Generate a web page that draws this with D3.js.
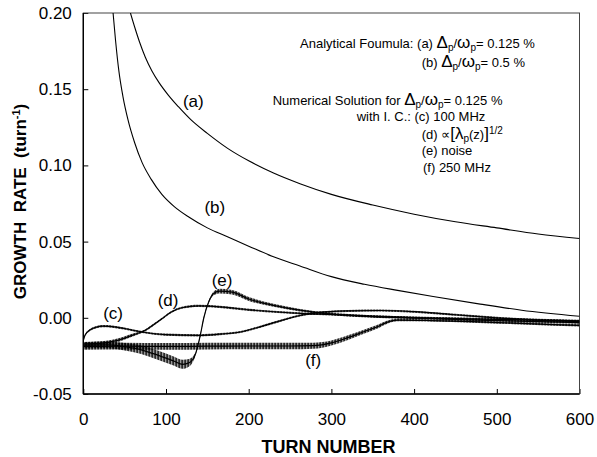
<!DOCTYPE html>
<html>
<head>
<meta charset="utf-8">
<script src="https://cdn.jsdelivr.net/npm/d3@7"></script>
<style>
	body { margin: 0; background: #fff; }
	text { font-family: "Liberation Sans", Arial, sans-serif; fill: #000; }
</style>
</head>
<body>
<svg id="chart" width="597" height="457"></svg>
<script>
// analytical curves: [turn, growth rate]
var curveA = [ [ 57, 0.200 ], [ 62, 0.191 ], [ 68, 0.181 ], [ 75, 0.171 ], [ 83, 0.162 ], [ 92, 0.154 ], [ 103, 0.146 ], [ 115, 0.1385 ], [ 130, 0.130 ], [ 150, 0.121 ], [ 175, 0.111 ], [ 200, 0.103 ], [ 230, 0.095 ], [ 262, 0.088 ], [ 300, 0.081 ], [ 350, 0.074 ], [ 400, 0.068 ], [ 450, 0.063 ], [ 500, 0.059 ], [ 550, 0.055 ], [ 600, 0.052 ] ];
var curveB = [ [ 36, 0.200 ], [ 39, 0.182 ], [ 43, 0.162 ], [ 48, 0.145 ], [ 54, 0.130 ], [ 62, 0.115 ], [ 71, 0.102 ], [ 82, 0.091 ], [ 95, 0.081 ], [ 110, 0.073 ], [ 128, 0.066 ], [ 150, 0.059 ], [ 175, 0.053 ], [ 200, 0.047 ], [ 230, 0.040 ], [ 262, 0.034 ], [ 300, 0.027 ], [ 340, 0.022 ], [ 380, 0.018 ], [ 423, 0.014 ], [ 480, 0.009 ], [ 530, 0.005 ], [ 600, 0.001 ] ];

// numerical curves: [turn, growth rate, half width of the oscillation]
var curveC = [ [ 0, -0.0150, 0.0007 ], [ 2, -0.0115, 0.0007 ], [ 8, -0.0080, 0.0007 ], [ 15, -0.0063, 0.0007 ], [ 24, -0.0055, 0.0007 ], [ 35, -0.0058, 0.0007 ], [ 51, -0.0072, 0.0007 ], [ 71, -0.0093, 0.0007 ], [ 99, -0.0110, 0.0007 ], [ 140, -0.0115, 0.0007 ], [ 165, -0.0107, 0.0007 ], [ 190, -0.0093, 0.0007 ], [ 210, -0.0065, 0.0007 ], [ 235, -0.0025, 0.0007 ], [ 262, 0.0015, 0.0007 ], [ 285, 0.0035, 0.0007 ], [ 320, 0.0045, 0.0007 ], [ 360, 0.0048, 0.0007 ], [ 400, 0.0040, 0.0007 ], [ 450, 0.0020, 0.0007 ], [ 500, 0.0000, 0.0007 ], [ 550, -0.0015, 0.0007 ], [ 600, -0.0025, 0.0007 ] ];
var curveD = [ [ 0, -0.0172, 0.0012 ], [ 20, -0.0168, 0.0012 ], [ 40, -0.0150, 0.0012 ], [ 59, -0.0115, 0.0010 ], [ 75, -0.0082, 0.0007 ], [ 85, -0.0045, 0.0007 ], [ 95, -0.0006, 0.0007 ], [ 107, 0.0040, 0.0007 ], [ 119, 0.0066, 0.0007 ], [ 140, 0.0078, 0.0007 ], [ 165, 0.0072, 0.0007 ], [ 201, 0.0052, 0.0007 ], [ 235, 0.0038, 0.0007 ], [ 266, 0.0028, 0.0007 ], [ 300, 0.0022, 0.0007 ], [ 350, 0.0010, 0.0007 ], [ 400, 0.0000, 0.0007 ], [ 450, -0.0010, 0.0007 ], [ 500, -0.0018, 0.0007 ], [ 550, -0.0025, 0.0007 ], [ 600, -0.0032, 0.0007 ] ];
var curveE = [ [ 0, -0.0180, 0.0022 ], [ 30, -0.0178, 0.0022 ], [ 50, -0.0190, 0.0024 ], [ 70, -0.0210, 0.0028 ], [ 90, -0.0245, 0.0030 ], [ 110, -0.0285, 0.0030 ], [ 120, -0.0305, 0.0030 ], [ 128, -0.0295, 0.0025 ], [ 135.5, -0.0240, 0.0010 ], [ 141.5, -0.0114, 0.0008 ], [ 145.6, -0.0003, 0.0008 ], [ 151.7, 0.0105, 0.0008 ], [ 157.7, 0.0160, 0.0012 ], [ 165, 0.0175, 0.0015 ], [ 180, 0.0168, 0.0015 ], [ 201, 0.0122, 0.0013 ], [ 230, 0.0082, 0.0010 ], [ 262, 0.0050, 0.0008 ], [ 300, 0.0025, 0.0008 ], [ 350, 0.0008, 0.0008 ], [ 400, 0.0000, 0.0008 ], [ 450, -0.0005, 0.0008 ], [ 500, -0.0010, 0.0008 ], [ 550, -0.0015, 0.0008 ], [ 600, -0.0020, 0.0008 ] ];
var curveF = [ [ 0, -0.0188, 0.0022 ], [ 50, -0.0186, 0.0022 ], [ 100, -0.0188, 0.0022 ], [ 150, -0.0186, 0.0022 ], [ 200, -0.0185, 0.0022 ], [ 250, -0.0185, 0.0022 ], [ 278, -0.0183, 0.0020 ], [ 300, -0.0165, 0.0016 ], [ 320, -0.0130, 0.0015 ], [ 340, -0.0090, 0.0013 ], [ 355, -0.0060, 0.0012 ], [ 367, -0.0030, 0.0010 ], [ 380, -0.0015, 0.0008 ], [ 420, -0.0018, 0.0007 ], [ 470, -0.0025, 0.0007 ], [ 520, -0.0035, 0.0007 ], [ 560, -0.0043, 0.0007 ], [ 600, -0.0050, 0.0007 ] ];

// curve labels: [text, turn, growth rate]
var curveLabels = [ [ "(a)", 133, 0.142 ], [ "(b)", 159, 0.0728 ], [ "(c)", 36, 0.0031 ], [ "(d)", 102.5, 0.0117 ], [ "(e)", 167.8, 0.0248 ], [ "(f)", 278, -0.0275 ] ];

// tick values
var xTicks = [ 0, 100, 200, 300, 400, 500, 600 ];
var yTicks = [ -0.05, 0.00, 0.05, 0.10, 0.15, 0.20 ];

// chart dimensions + margins
var chartMargins = {
		top: 13,
		right: 17.5,
		bottom: 63,
		left: 83.3
	},
	width = 597 - chartMargins.left - chartMargins.right,
	height = 457 - chartMargins.top - chartMargins.bottom;

var svg = d3.select( "#chart" );

// hatch pattern for the fast oscillation band
var defs = svg.append( "defs" );
defs.append( "pattern" )
	.attr( "id", "osc" )
	.attr( "patternUnits", "userSpaceOnUse" )
	.attr( "width", 1.5 )
	.attr( "height", 4 )
	.append( "rect" )
	.attr( "width", 1 )
	.attr( "height", 4 )
	.attr( "fill", "#000" );

defs.append( "clipPath" )
	.attr( "id", "plotClip" )
	.append( "rect" )
	.attr( "width", width )
	.attr( "height", height );

var g = svg.append( "g" )
	.attr( "transform", "translate(" + chartMargins.left + "," + chartMargins.top + ")" );

// X AXIS
var x = d3.scaleLinear().domain( [ 0, 600 ] ).range( [ 0, width ] );
// Y AXIS
var y = d3.scaleLinear().domain( [ -0.05, 0.20 ] ).range( [ height, 0 ] );

var xAxis = d3.axisBottom( x )
	.tickValues( xTicks )
	.tickSize( -5 )
	.tickPadding( 18.5 );

var yAxis = d3.axisLeft( y )
	.tickValues( yTicks )
	.tickSize( -5 )
	.tickPadding( 11.5 )
	.tickFormat( function ( d ) {
		return d.toFixed( 2 );
	} );

var gx = g.append( "g" )
	.attr( "transform", "translate(0," + height + ")" )
	.call( xAxis );
gx.select( ".domain" ).remove();
gx.selectAll( "text" ).attr( "font-size", 17 ).attr( "font-family", null );
gx.selectAll( "line" ).attr( "stroke-width", 1 );

var gy = g.append( "g" ).call( yAxis );
gy.select( ".domain" ).remove();
gy.selectAll( "text" ).attr( "font-size", 17 ).attr( "font-family", null );
gy.selectAll( "line" ).attr( "stroke-width", 1 );

// frame
g.append( "rect" )
	.attr( "width", width )
	.attr( "height", height )
	.attr( "fill", "none" )
	.attr( "stroke", "#444" )
	.attr( "stroke-width", 1 );

g.append( "line" )
	.attr( "x1", 0 ).attr( "x2", 0 )
	.attr( "y1", 0 ).attr( "y2", height )
	.attr( "stroke", "#000" ).attr( "stroke-width", 1.4 );
g.append( "line" )
	.attr( "x1", 0 ).attr( "x2", width )
	.attr( "y1", height ).attr( "y2", height )
	.attr( "stroke", "#000" ).attr( "stroke-width", 1.4 );

var plot = g.append( "g" ).attr( "clip-path", "url(#plotClip)" );

// analytical lines
var line = d3.line()
	.x( function ( d ) { return x( d[ 0 ] ); } )
	.y( function ( d ) { return y( d[ 1 ] ); } )
	.curve( d3.curveMonotoneX );

[ curveA, curveB ].forEach( function ( c ) {
	plot.append( "path" )
		.datum( c )
		.attr( "fill", "none" )
		.attr( "stroke", "#000" )
		.attr( "stroke-width", 1.1 )
		.attr( "d", line );
} );

// numerical solutions: oscillation band + centre line
var band = d3.area()
	.x( function ( d ) { return x( d[ 0 ] ); } )
	.y0( function ( d ) { return y( d[ 1 ] - d[ 2 ] ); } )
	.y1( function ( d ) { return y( d[ 1 ] + d[ 2 ] ); } )
	.curve( d3.curveMonotoneX );

[ curveF, curveE, curveD, curveC ].forEach( function ( c ) {
	plot.append( "path" )
		.datum( c )
		.attr( "fill", "url(#osc)" )
		.attr( "d", band );
	plot.append( "path" )
		.datum( c )
		.attr( "fill", "none" )
		.attr( "stroke", "#000" )
		.attr( "stroke-width", 1.2 )
		.attr( "d", line );
} );

// curve labels
g.selectAll( ".clabel" )
	.data( curveLabels )
	.enter()
	.append( "text" )
	.attr( "class", "clabel" )
	.attr( "x", function ( d ) { return x( d[ 1 ] ); } )
	.attr( "y", function ( d ) { return y( d[ 2 ] ); } )
	.attr( "dy", "0.35em" )
	.attr( "text-anchor", "middle" )
	.attr( "font-size", 17 )
	.text( function ( d ) { return d[ 0 ]; } );

// axis titles
svg.append( "text" )
	.attr( "x", chartMargins.left + width / 2 - 3 )
	.attr( "y", 453 )
	.attr( "text-anchor", "middle" )
	.attr( "font-size", 18 )
	.attr( "font-weight", "bold" )
	.text( "TURN NUMBER" );

var yTitle = svg.append( "text" )
	.attr( "transform", "translate(26," + ( chartMargins.top + height / 2 - 2 ) + ") rotate(-90)" )
	.attr( "text-anchor", "middle" )
	.attr( "font-size", 17 )
	.attr( "font-weight", "bold" )
	.attr( "xml:space", "preserve" );
yTitle.append( "tspan" ).text( "GROWTH  RATE  (turn" );
yTitle.append( "tspan" ).attr( "dy", -6 ).attr( "font-size", 11 ).text( "-1" );
yTitle.append( "tspan" ).attr( "dy", 6 ).text( ")" );

// legend block: segments of [text, kind]
function legendLine( x0, y0, parts ) {
	var t = svg.append( "text" )
		.attr( "x", x0 )
		.attr( "y", y0 )
		.attr( "font-size", 13 )
		.attr( "xml:space", "preserve" );
	var shift = 0;
	parts.forEach( function ( p ) {
		var s = t.append( "tspan" ).text( p[ 0 ] );
		var want = 0;
		if ( p[ 1 ] == "sub" ) {
			want = 3;
			s.attr( "font-size", 10 );
		} else if ( p[ 1 ] == "sup" ) {
			want = -5;
			s.attr( "font-size", 10 );
		} else if ( p[ 1 ] == "big" ) {
			s.attr( "font-size", 17 );
		} else if ( p[ 1 ] == "huge" ) {
			s.attr( "font-size", 17 );
		}
		if ( want != shift ) {
			s.attr( "dy", want - shift );
			shift = want;
		}
	} );
}

var ratio = [ [ "\u0394", "big" ], [ "p", "sub" ], [ "/", "" ], [ "\u03c9", "big" ], [ "p", "sub" ] ];

legendLine( 300, 48, [ [ "Analytical Foumula: (a) ", "" ] ].concat( ratio, [ [ "= 0.125 %", "" ] ] ) );
legendLine( 421.7, 67, [ [ "(b) ", "" ] ].concat( ratio, [ [ "= 0.5 %", "" ] ] ) );
legendLine( 272.7, 105, [ [ "Numerical Solution for ", "" ] ].concat( ratio, [ [ "= 0.125 %", "" ] ] ) );
legendLine( 356.7, 121, [ [ "with I. C.: (c) 100 MHz", "" ] ] );
legendLine( 421.7, 139, [ [ "(d) ", "" ], [ "\u221d", "" ], [ "[", "huge" ], [ "\u03bb", "big" ], [ "p", "sub" ], [ "(z)", "" ], [ "]", "huge" ], [ "1/2", "sup" ] ] );
legendLine( 421.7, 155, [ [ "(e) noise", "" ] ] );
legendLine( 423, 172, [ [ "(f) 250 MHz", "" ] ] );
</script>
</body>
</html>
